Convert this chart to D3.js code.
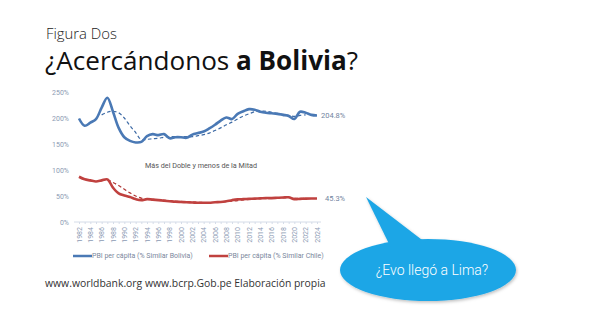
<!DOCTYPE html>
<html><head><meta charset="utf-8">
<script src="https://cdn.jsdelivr.net/npm/d3@7"></script>
<style>html,body{margin:0;padding:0;background:#fff;}svg{display:block;}</style>
</head><body>
<svg id="c" width="589" height="331"></svg>
<script>
const years = d3.range(1982, 2025);
const bolivia = [199,185,191,198,220,239,212,181,163,156,153,154,165,169,167,169,161,163,163,162,168,171,174,180,187,195,201,198,208,213,217,216,212,210,209,208,206,204,198,212,210,206,204.8];
const chile = [87,82,80,78,80,82,66,55,51,48,44,42,44,43,42,41,40,39,38.5,38,37.5,37,37,37,38,38.5,40,42,43.5,44,44.5,45,45.5,46,46,46.5,47,47.5,44,44.5,45,45.3,45.3];
const trendYears = d3.range(1986, 2023);
const boliviaTrend = [206,211,213,210,200,185,172,158,159,160,161,163,164,164,164,164,164,166,168,171,176,181,187,192,198,204,208,212,213,213,211,209,207,205,203,205,206];
const chileTrend = [80,81,76,70,63,56,50,46,44,43.5,43,42,41,40,39.5,39,38.5,38,37.5,37.5,37.5,38,39,40,41,42.5,43.5,44.5,45,45.5,46,46,46.5,47,46,45.5,45.5];
const yTicks = [0,50,100,150,200,250];
const xTicks = d3.range(1982, 2025, 2);
const seriesNames = ["PBI per cápita (% Similar Bolivia)", "PBI per cápita (% Similar Chile)"];
const endLabels = ["204.8%", "45.3%"];

const svg = d3.select("#c");
const blue = "#4a79b5", red = "#c0413f";
const x = d3.scaleLinear().domain([1982, 2024]).range([79, 317]);
const y = d3.scaleLinear().domain([0, 250]).range([222, 92]);

function fitText(sel, w) {
  const n = sel.node(); const cur = n.getComputedTextLength();
  const fs = parseFloat(sel.attr("font-size"));
  sel.attr("font-size", fs * w / cur);
}

// Titles
const t1 = svg.append("text").attr("x", 46).attr("y", 39).attr("font-family", "Open Sans, sans-serif")
  .attr("font-size", 14).attr("fill", "#222").attr("font-weight", 300).text("Figura Dos");
fitText(t1, 71);
const t2 = svg.append("text").attr("x", 45).attr("y", 70).attr("font-family", "Open Sans, sans-serif")
  .attr("font-size", 28).attr("fill", "#111");
t2.append("tspan").text("¿Acercándonos ");
t2.append("tspan").attr("font-weight", 700).text("a Bolivia");
t2.append("tspan").text("?");
fitText(t2, 313);

// Axes
const yAx = svg.append("g").attr("transform", "translate(72,0)")
  .call(d3.axisLeft(y).tickValues(yTicks).tickSize(0).tickPadding(3).tickFormat(d => d + "%"));
yAx.select(".domain").remove();
yAx.selectAll("text").attr("font-family", "Roboto, sans-serif").attr("font-size", 7).attr("fill", "#8c9bb3");

const xAx = svg.append("g").attr("transform", "translate(0,222)")
  .call(d3.axisBottom(x).tickValues(years).tickSize(2).tickFormat(d => xTicks.includes(d) ? d : ""));
xAx.select(".domain").attr("stroke", "#d5dce8").attr("d", "M74,0H321");
xAx.selectAll(".tick line").attr("stroke", "#d5dce8");
xAx.selectAll("text").attr("font-family", "Roboto, sans-serif").attr("font-size", 7).attr("fill", "#8c9bb3")
  .attr("transform", "rotate(-90)").attr("text-anchor", "end").attr("dx", "-4").attr("dy", "-0.4em")
  .attr("x", 0).attr("y", 0).attr("dx", -5).attr("dy", "0.32em");

// Lines
const line = d3.line().x(d => x(d[0])).y(d => y(d[1])).curve(d3.curveCatmullRom.alpha(0.5));
svg.append("path").datum(trendYears.map((yr, i) => [yr, boliviaTrend[i]])).attr("d", line)
  .attr("fill", "none").attr("stroke", "#3d6aa5").attr("stroke-width", 1.2).attr("stroke-dasharray", "3.5,2.5");
svg.append("path").datum(trendYears.map((yr, i) => [yr, chileTrend[i]])).attr("d", line)
  .attr("fill", "none").attr("stroke", "#b03533").attr("stroke-width", 1.2).attr("stroke-dasharray", "3.5,2.5");
svg.append("path").datum(years.map((yr, i) => [yr, bolivia[i]])).attr("d", line)
  .attr("fill", "none").attr("stroke", blue).attr("stroke-width", 2.6).attr("stroke-linejoin", "round");
svg.append("path").datum(years.map((yr, i) => [yr, chile[i]])).attr("d", line)
  .attr("fill", "none").attr("stroke", red).attr("stroke-width", 2.6).attr("stroke-linejoin", "round");

// End labels
svg.append("text").attr("x", x(2024) + 4).attr("y", y(bolivia[bolivia.length - 1])).attr("dy", "0.35em")
  .attr("font-family", "Roboto, sans-serif").attr("font-size", 7.5).attr("fill", "#7284a0").text(endLabels[0]);
svg.append("text").attr("x", x(2024) + 8).attr("y", y(chile[chile.length - 1])).attr("dy", "0.35em")
  .attr("font-family", "Roboto, sans-serif").attr("font-size", 7.5).attr("fill", "#7284a0").text(endLabels[1]);

// Annotation
svg.append("text").attr("x", 145).attr("y", 168).attr("font-family", "Roboto, sans-serif").attr("font-size", 8)
  .attr("fill", "#555").attr("textLength", 112).attr("lengthAdjust", "spacingAndGlyphs")
  .text("Más del Doble y menos de la Mitad");

// Legend
const leg = [[73, blue], [209, red]];
leg.forEach((l, i) => {
  svg.append("line").attr("x1", l[0]).attr("x2", l[0] + 19).attr("y1", 256).attr("y2", 256)
    .attr("stroke", l[1]).attr("stroke-width", 2.5);
  svg.append("text").attr("x", l[0] + 19).attr("y", 256).attr("dy", "0.35em")
    .attr("font-family", "Roboto, sans-serif").attr("font-size", 7).attr("fill", "#7a879c").text(seriesNames[i]);
});

// Source
const src = svg.append("text").attr("x", 45).attr("y", 287).attr("font-family", "Open Sans, sans-serif")
  .attr("font-size", 11.5).attr("fill", "#333").text("www.worldbank.org  www.bcrp.Gob.pe  Elaboración propia");
fitText(src, 281);

// Speech bubble
const defs = svg.append("defs");
const f = defs.append("filter").attr("id", "sh").attr("x", "-20%").attr("y", "-20%").attr("width", "140%").attr("height", "140%");
f.append("feDropShadow").attr("dx", 1).attr("dy", 1.5).attr("stdDeviation", 1.5).attr("flood-color", "#000").attr("flood-opacity", 0.25);
const bub = svg.append("g").attr("filter", "url(#sh)");
const cx = 428, cy = 270;
bub.append("ellipse").attr("cx", cx).attr("cy", cy).attr("rx", 88).attr("ry", 31).attr("fill", "#1ea6e6");
bub.append("path").attr("d", `M366,197 L392,250 L430,246 Z`).attr("fill", "#1ea6e6");
svg.append("text").attr("x", cx + 4).attr("y", cy).attr("dy", "0.35em").attr("text-anchor", "middle")
  .attr("font-family", "Roboto, sans-serif").attr("font-weight", 300).attr("font-size", 14).attr("fill", "#fff")
  .text("¿Evo llegó a Lima?");
</script>
</body></html>
